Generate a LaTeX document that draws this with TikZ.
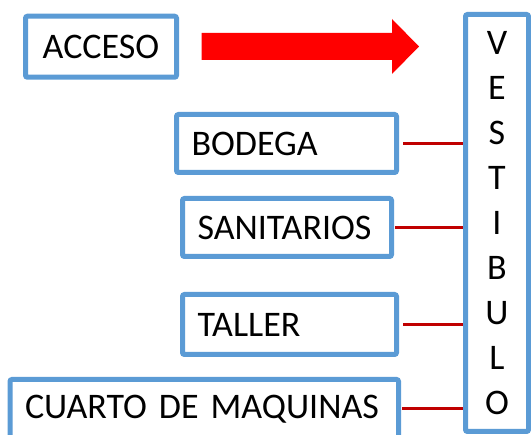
\documentclass[tikz,border=0pt]{standalone}
\usepackage{fontspec}
\setmainfont{Carlito}
\definecolor{roomblue}{HTML}{5B9BD5}
\definecolor{linkred}{HTML}{C00000}
\tikzset{
  room/.style={draw=roomblue, line width=5pt, rounded corners=2pt, fill=white,
    inner xsep=15pt, inner ysep=0pt, align=left, font=\fontsize{36}{40}\selectfont},
  link/.style={linkred, line width=3pt}
}
\begin{document}
\begin{tikzpicture}[x=1pt,y=-1pt]
    \useasboundingbox (0,0) rectangle (531,435);
    %rooms
    \node[room, align=center, text width=121pt, minimum height=61pt] (acceso) at (101,46.75) {ACCESO};
    \node[room, text width=190pt, minimum height=58pt] (bodega) at (286.5,143.5) {BODEGA};
    \node[room, text width=179pt, minimum height=58pt] (sanitarios) at (287,227.5) {SANITARIOS};
    \node[room, text width=184pt, minimum height=60pt] (taller) at (289.5,324.5) {TALLER};
    \node[room, text width=358.5pt, minimum height=59pt] (maquinas) at (204.25,409) {CUARTO DE MAQUINAS};
    %entrance arrow
    \fill[red] (201.5,33) -- (392,33) -- (392,19) -- (419,46.5) -- (392,74) -- (392,60) -- (201.5,60) -- cycle;
    %links to the hall
    \draw[link] ([xshift=4pt]bodega.east) -- (bodega.east -| 465,0);
    \draw[link] ([xshift=1pt]sanitarios.east) -- (sanitarios.east -| 465,0);
    \draw[link] ([xshift=4pt]taller.east) -- (taller.east -| 465,0);
    \draw[link] ([xshift=1pt]maquinas.east) -- (maquinas.east -| 465,0);
    \node[room, align=center, inner xsep=0pt, text width=63pt, minimum height=417pt,
      font=\fontsize{36}{45.1}\selectfont] (vestibulo) at (497,223)
      {V\\E\\S\\T\\I\\B\\U\\L\\O};
\end{tikzpicture}
\end{document}
